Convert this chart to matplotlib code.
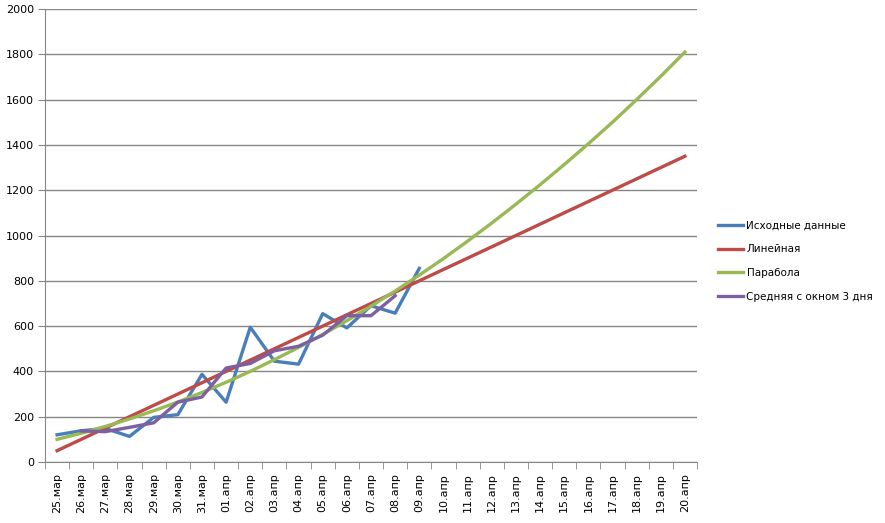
import matplotlib
matplotlib.use("Agg")
import matplotlib.pyplot as plt
from matplotlib.lines import Line2D

# Даты (категории оси X)
dates = ['25.мар', '26.мар', '27.мар', '28.мар', '29.мар', '30.мар', '31.мар',
         '01.апр', '02.апр', '03.апр', '04.апр', '05.апр', '06.апр', '07.апр',
         '08.апр', '09.апр', '10.апр', '11.апр', '12.апр', '13.апр', '14.апр',
         '15.апр', '16.апр', '17.апр', '18.апр', '19.апр', '20.апр']

# Исходные данные (25.мар - 09.апр)
ishodnye = [120, 138, 148, 113, 197, 209, 387, 264, 595, 445, 432, 655, 592, 690, 657, 855]

# Линейный тренд
lineinaya = [50, 100, 150, 200, 250, 300, 350, 400, 450, 500, 550, 600, 650, 700,
             750, 800, 850, 900, 950, 1000, 1050, 1100, 1150, 1200, 1250, 1300, 1350]

# Парабола
parabola = [100, 127, 157, 190, 226, 265, 307, 352, 400, 452, 506, 563, 624, 688,
            755, 825, 898, 975, 1055, 1138, 1224, 1313, 1405, 1500, 1600, 1703, 1810]

# Средняя с окном 3 дня (26.мар - 08.апр)
srednyaya = [137, 134, 153, 173, 264, 287, 415, 435, 491, 511, 560, 646, 646, 734]

fig = plt.figure(figsize=(8.85, 5.23), dpi=100)
ax = fig.add_axes([45 / 885, 1 - 462 / 523, (697 - 45) / 885, (462 - 9) / 523])

x = list(range(len(dates)))
lw = 2.4
ax.plot(x[:len(ishodnye)], ishodnye, color='#4A7EBB', lw=lw, label='Исходные данные', zorder=3)
ax.plot(x, lineinaya, color='#BE4B48', lw=lw, label='Линейная', zorder=3)
ax.plot(x, parabola, color='#98B954', lw=lw, label='Парабола', zorder=3)
ax.plot(x[1:1 + len(srednyaya)], srednyaya, color='#7D60A0', lw=lw,
        label='Средняя с окном 3 дня', zorder=4)

ax.set_xlim(-0.5, len(dates) - 0.5)
ax.set_ylim(0, 2000)
ax.set_yticks(range(0, 2001, 200))
ax.grid(axis='y', color='#868686', lw=1)
ax.set_axisbelow(True)

ax.set_xticks(x)
ax.set_xticklabels(dates, rotation=90, fontsize=8)
ax.set_xticks([i - 0.5 for i in range(len(dates) + 1)], minor=True)
ax.tick_params(axis='x', which='major', length=0, pad=8)
ax.tick_params(axis='x', which='minor', length=5, color='#868686')
ax.tick_params(axis='y', length=5, color='#868686', labelsize=8, pad=3)

for s in ['top', 'right']:
    ax.spines[s].set_visible(False)
for s in ['left', 'bottom']:
    ax.spines[s].set_color('#868686')

handles = [Line2D([], [], color=c, lw=lw) for c in ['#4A7EBB', '#BE4B48', '#98B954', '#7D60A0']]
labels = ['Исходные данные', 'Линейная', 'Парабола', 'Средняя с окном 3 дня']
fig.legend(handles, labels, loc='upper left', bbox_to_anchor=(709 / 885, 1 - 211 / 523),
           frameon=False, fontsize=7.5, handlelength=2.4, handletextpad=0.3, labelspacing=1.33)

fig.savefig('out.png', dpi=100)
